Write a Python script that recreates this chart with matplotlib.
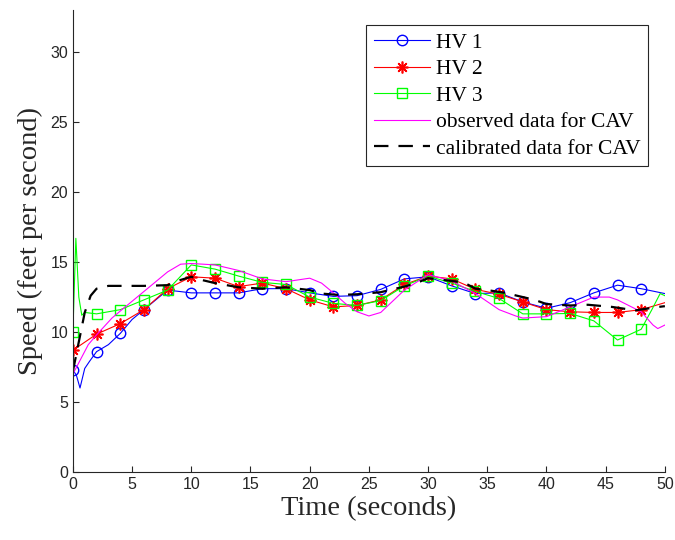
import matplotlib
matplotlib.use("Agg")
import matplotlib.pyplot as plt

# HV 1 (blue circles) - marker points every 2 s plus a few extra points
hv1_t = [0, 0.3, 0.6, 1.0, 1.4, 2, 3, 4, 5, 6, 7, 8, 9, 10, 12, 14, 16, 18, 20, 22, 24, 26, 28,
         30, 32, 34, 36, 38, 40, 42, 44, 46, 48, 50]
hv1_v = [7.3, 6.9, 6.0, 7.4, 7.9, 8.6, 9.1, 9.9, 10.9, 11.6, 12.3, 13.0, 12.9, 12.8, 12.8, 12.8,
         13.1, 13.1, 12.8, 12.55, 12.6, 13.05, 13.8, 13.95, 13.3, 12.75, 12.8, 12.15, 11.7, 12.1,
         12.8, 13.35, 13.1, 12.75]

# HV 2 (red asterisks)
hv2_t = [0, 2, 4, 6, 8, 10, 12, 14, 16, 18, 20, 22, 24, 26, 28, 30, 32, 34, 36, 38, 40, 42, 44,
         46, 48, 50]
hv2_v = [8.7, 9.85, 10.6, 11.6, 13.1, 13.95, 13.85, 13.25, 13.5, 13.1, 12.3, 11.8, 11.9, 12.3,
         13.4, 14.0, 13.8, 13.05, 12.7, 12.15, 11.6, 11.45, 11.4, 11.4, 11.6, 12.1]

# HV 3 (green squares)
hv3_t = [0, 0.25, 0.5, 0.75, 1.0, 2, 4, 6, 8, 10, 12, 14, 16, 18, 20, 22, 24, 26, 28, 30, 32, 34,
         36, 38, 40, 42, 44, 46, 48, 48.9, 49.6, 50]
hv3_v = [10.0, 16.7, 12.5, 11.2, 11.4, 11.3, 11.6, 12.3, 13.0, 14.8, 14.5, 14.0, 13.55, 13.4,
         12.5, 12.05, 11.9, 12.25, 13.3, 14.0, 13.5, 12.9, 12.4, 11.3, 11.3, 11.33, 10.8, 9.43,
         10.2, 11.6, 12.75, 12.6]

# observed data for CAV (magenta)
obs_t = [0, 1.3, 2, 3.3, 4, 6, 8, 9.1, 10, 12, 14, 16, 18, 20, 21, 22, 23, 24, 25, 26, 28, 30,
         31.4, 32, 34, 36, 37.4, 38, 40, 42, 44, 45.3, 46, 48, 49, 49.4, 50]
obs_v = [7.0, 9.1, 9.8, 11.0, 11.5, 12.9, 14.3, 14.85, 14.9, 14.8, 14.4, 13.8, 13.6, 13.85, 13.5,
         12.8, 12.05, 11.45, 11.15, 11.4, 13.0, 14.1, 13.8, 13.65, 12.75, 11.6, 11.15, 11.0, 11.1,
         11.8, 12.5, 12.5, 12.3, 11.45, 10.5, 10.25, 10.5]

# calibrated data for CAV (black dashed)
cal_t = [0, 0.5, 1.0, 1.5, 2, 3, 4, 6, 8, 9, 10, 11, 12, 14, 16, 18, 20, 21, 22.5, 24, 26, 28,
         29, 30, 32, 33, 34, 35, 36.5, 38, 39, 40, 42, 43.5, 45.5, 47.5, 49.5, 50]
cal_v = [7.2, 9.3, 11.4, 12.6, 13.1, 13.3, 13.3, 13.3, 13.35, 13.7, 13.95, 13.7, 13.5, 13.2, 13.1,
         13.2, 13.0, 12.75, 12.65, 12.7, 12.85, 13.25, 13.5, 13.85, 13.65, 13.55, 13.1, 13.0, 12.8,
         12.5, 12.3, 12.0, 11.9, 11.95, 11.8, 11.55, 11.8, 11.85]

x_ticks = list(range(0, 51, 5))
y_ticks = list(range(0, 31, 5))

TNR = ["Liberation Serif", "DejaVu Serif"]
plt.rcParams["font.family"] = ["Liberation Sans", "DejaVu Sans"]


def every2(ts):
    # markers every 2 s, the last one at 48 s
    return [i for i, t in enumerate(ts) if t % 2 == 0 and t < 50]


fig = plt.figure(figsize=(6.75, 5.4), dpi=100)
ax = fig.add_axes([0.108, 0.126, 0.877, 0.855])

ax.plot(hv1_t, hv1_v, color=(0, 0, 1), lw=0.8, marker="o", markersize=7.5, mfc="none",
        mec=(0, 0, 1), mew=1.0, markevery=every2(hv1_t), label="HV 1")
ax.plot(hv2_t, hv2_v, color=(1, 0, 0), lw=0.8, marker=(8, 2, 0), markersize=8.5, mec=(1, 0, 0),
        mew=1.2, markevery=every2(hv2_t), label="HV 2")
ax.plot(hv3_t, hv3_v, color=(0, 1, 0), lw=0.8, marker="s", markersize=7, mfc="none",
        mec=(0, 1, 0), mew=1.0, markevery=every2(hv3_t), label="HV 3")
ax.plot(obs_t, obs_v, color=(1, 0, 1), lw=0.8, label="observed data for CAV")
ax.plot(cal_t, cal_v, color="black", lw=1.6, dashes=(6.5, 4.5), label="calibrated data for CAV")

ax.set_xlim(0, 50)
ax.set_ylim(0, 33)
ax.set_xticks(x_ticks)
ax.set_yticks(y_ticks)
for side in ("top", "right"):
    ax.spines[side].set_visible(False)
for side in ("left", "bottom"):
    ax.spines[side].set_color("#262626")
    ax.spines[side].set_linewidth(0.8)
ax.tick_params(direction="in", length=4, width=0.8, color="#262626", labelsize=11.5,
               labelcolor="#262626")

ax.set_xlabel("Time (seconds)", family=TNR, fontsize=20.5, color="#262626", labelpad=3)
ax.set_ylabel("Speed (feet per second)", family=TNR, fontsize=20.5, color="#262626", labelpad=5)

leg = ax.legend(loc="upper right", bbox_to_anchor=(0.972, 0.968), prop={"family": TNR, "size": 15.5},
                handlelength=2.6, handletextpad=0.3, labelspacing=0.3, borderpad=0.35,
                borderaxespad=0, fancybox=False, framealpha=1, edgecolor="#262626")
leg.get_frame().set_linewidth(0.8)

fig.savefig("out.png", dpi=100)
